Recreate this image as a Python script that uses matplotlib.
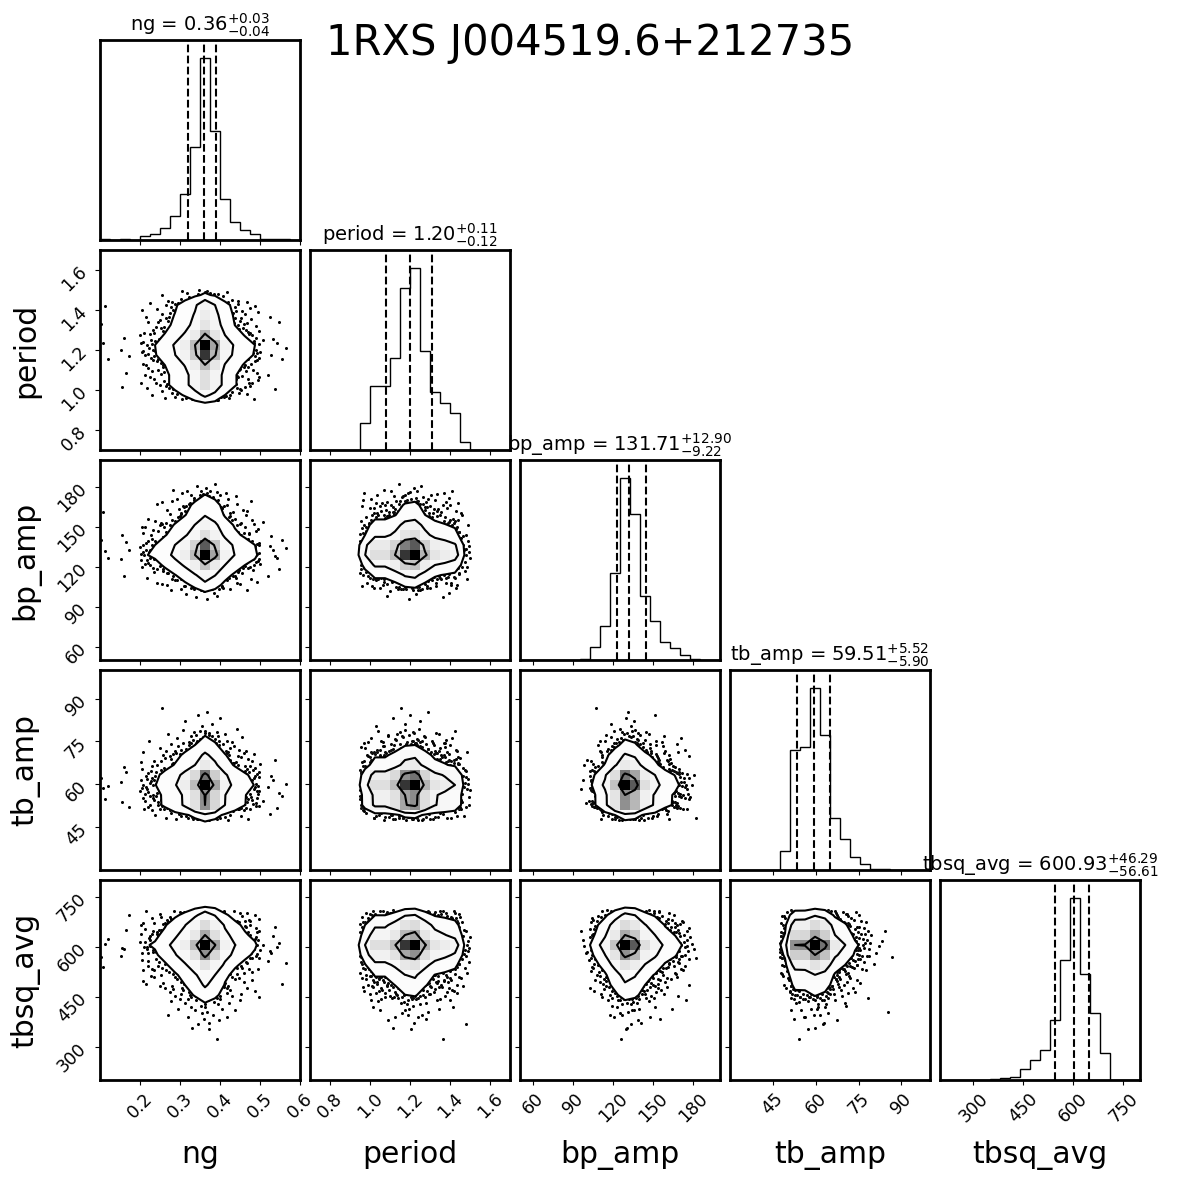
import numpy as np
import matplotlib
matplotlib.use("Agg")
import matplotlib.pyplot as plt
from matplotlib.colors import LinearSegmentedColormap

# parameter names, plot ranges and tick positions
labels = ["ng", "period", "bp_amp", "tb_amp", "tbsq_avg"]
ranges = [(0.1, 0.6), (0.7, 1.7), (50, 200), (30, 100), (200, 800)]
ticks = [
    [0.2, 0.3, 0.4, 0.5, 0.6],
    [0.8, 1.0, 1.2, 1.4, 1.6],
    [60, 90, 120, 150, 180],
    [45, 60, 75, 90],
    [300, 450, 600, 750],
]

# 1d histogram counts (20 bins over each range)
ng_counts = [3, 0, 3, 0, 13, 18, 36, 73, 138, 278, 543, 325, 121, 55, 30, 18, 2, 4, 2, 0]
period_counts = [0, 0, 0, 0, 0, 81, 191, 191, 275, 483, 543, 295, 173, 141, 111, 23, 0, 0, 0, 0]
bp_amp_counts = [0, 0, 0, 0, 0, 0, 4, 38, 101, 261, 543, 435, 191, 116, 53, 35, 15, 3, 0, 0]
tb_amp_counts = [0, 0, 0, 0, 0, 56, 358, 366, 543, 403, 156, 93, 38, 18, 3, 3, 1, 0, 0, 0]
tbsq_avg_counts = [0, 0, 0, 0, 1, 3, 6, 10, 33, 60, 90, 180, 358, 543, 318, 201, 82, 0, 0, 0]
counts = [ng_counts, period_counts, bp_amp_counts, tb_amp_counts, tbsq_avg_counts]

# medians and errors from the panel titles
medians = [0.36, 1.20, 131.71, 59.51, 600.93]
err_hi = [0.03, 0.11, 12.90, 5.52, 46.29]
err_lo = [0.04, 0.12, 9.22, 5.90, 56.61]

K = len(labels)
nsamp = 2500
levels = 1.0 - np.exp(-0.5 * np.array([0.85, 1.7, 2.3]) ** 2)

plt.rcParams["axes.linewidth"] = 2.0


def edges_of(i):
    return np.linspace(ranges[i][0], ranges[i][1], len(counts[i]) + 1)


def quasi_samples(i, u):
    # map quantile positions through the histogram's cumulative distribution
    c = np.array(counts[i], float)
    cdf = np.concatenate([[0.0], np.cumsum(c)]) / c.sum()
    e = edges_of(i)
    idx = np.clip(np.searchsorted(cdf, u, side="right") - 1, 0, len(c) - 1)
    frac = (u - cdf[idx]) / np.maximum(c[idx] / c.sum(), 1e-12)
    return e[idx] + np.clip(frac, 0, 1) * (e[1] - e[0])


def van_der_corput(n, base):
    out = np.zeros(len(n))
    f = 1.0 / base
    n = n.copy()
    while np.any(n > 0):
        out += f * (n % base)
        n //= base
        f /= base
    return out


# deterministic low-discrepancy quantile positions (Halton sequence)
bases = [2, 3, 5, 7, 11]
idx_n = np.arange(1, nsamp + 1)
samples = [quasi_samples(i, van_der_corput(idx_n, bases[i])) for i in range(K)]

density_cmap = LinearSegmentedColormap.from_list("density_cmap", ["k", (1, 1, 1, 0)])

fig, axes = plt.subplots(K, K, figsize=(11.8, 11.8), dpi=100)
lb = 1.0 / 11.8
tr = 11.4 / 11.8
fig.subplots_adjust(left=lb, bottom=lb, right=tr, top=tr, wspace=0.05, hspace=0.05)

for i in range(K):
    for j in range(K):
        ax = axes[i, j]
        if j > i:
            ax.set_frame_on(False)
            ax.set_xticks([])
            ax.set_yticks([])
            continue

        if i == j:
            c = np.array(counts[i], float)
            ax.stairs(c, edges_of(i), color="k", lw=1.0)
            for q in [medians[i] - err_lo[i], medians[i], medians[i] + err_hi[i]]:
                ax.axvline(q, ls="dashed", color="k", lw=1.5)
            title = "{0} = ${{{1:.2f}}}_{{-{2:.2f}}}^{{+{3:.2f}}}$".format(
                labels[i], medians[i], err_lo[i], err_hi[i])
            ax.set_title(title, fontsize=14)
            ax.set_xlim(ranges[i])
            ax.set_ylim(0, 1.1 * c.max())
            ax.set_yticks([])
        else:
            cx = np.array(counts[j], float)
            cy = np.array(counts[i], float)
            H = np.outer(cx, cy)
            H = H / H.sum()
            X = edges_of(j)
            Y = edges_of(i)

            # contour levels enclosing the given mass
            Hflat = np.sort(H.flatten())[::-1]
            sm = np.cumsum(Hflat)
            sm /= sm[-1]
            V = np.array([Hflat[sm <= v][-1] if np.any(sm <= v) else Hflat[0] for v in levels])
            V.sort()

            X1 = 0.5 * (X[1:] + X[:-1])
            Y1 = 0.5 * (Y[1:] + Y[:-1])
            dx = X1[1] - X1[0]
            dy = Y1[1] - Y1[0]
            X2 = np.concatenate([[X1[0] - 2 * dx, X1[0] - dx], X1, [X1[-1] + dx, X1[-1] + 2 * dx]])
            Y2 = np.concatenate([[Y1[0] - 2 * dy, Y1[0] - dy], Y1, [Y1[-1] + dy, Y1[-1] + 2 * dy]])
            H2 = np.zeros((H.shape[0] + 4, H.shape[1] + 4)) + H.min()
            H2[2:-2, 2:-2] = H

            ax.plot(samples[j], samples[i], "o", color="k", ms=2.2, mec="none", zorder=-1)
            ax.contourf(X2, Y2, H2.T, [V.min(), H.max()], colors=["white"], antialiased=False)
            ax.pcolormesh(X, Y, H.max() - H.T, cmap=density_cmap)
            ax.contour(X2, Y2, H2.T, V, colors="k", linewidths=1.5)

            ax.set_xlim(ranges[j])
            ax.set_ylim(ranges[i])
            ax.set_yticks(ticks[i])
            if j > 0:
                ax.set_yticklabels([])
            else:
                ax.set_ylabel(labels[i], fontsize=21.5)
                ax.yaxis.set_label_coords(-0.3, 0.5)
                for l in ax.get_yticklabels():
                    l.set_rotation(45)
                ax.tick_params(axis="y", labelsize=12.5)

        ax.set_xticks(ticks[j])
        if i < K - 1:
            ax.set_xticklabels([])
        else:
            ax.set_xlabel(labels[j], fontsize=21.5)
            ax.xaxis.set_label_coords(0.5, -0.3)
            for l in ax.get_xticklabels():
                l.set_rotation(45)
            ax.tick_params(axis="x", labelsize=12.5)
        ax.set_xlim(ranges[j])

fig.suptitle("1RXS J004519.6+212735", fontsize=30, x=0.5, y=0.981)
fig.savefig("out.png", dpi=100)
